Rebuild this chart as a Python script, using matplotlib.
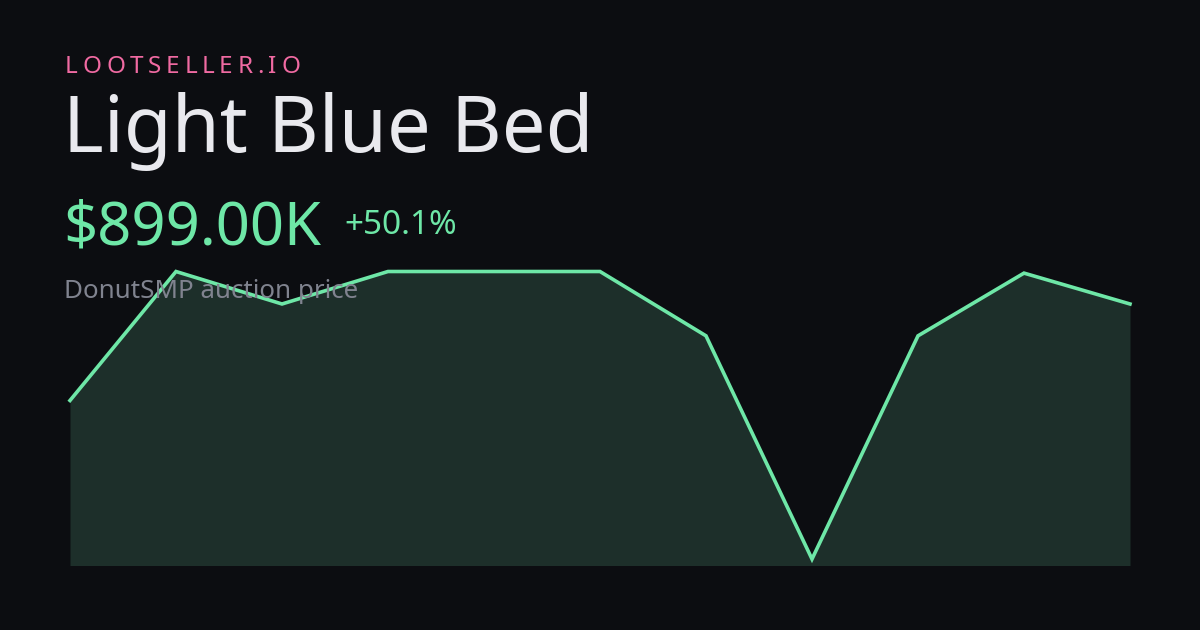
import matplotlib
matplotlib.use("Agg")
import matplotlib.pyplot as plt

# price history (K)
prices = [599, 1000, 899, 1000, 1000, 1000, 800, 106, 800, 995, 899]
brand = "LOOTSELLER.IO"
item_name = "Light Blue Bed"
price_label = "$899.00K"
change_label = "+50.1%"
subtitle = "DonutSMP auction price"

W, H = 1200, 630
BG = "#0c0d11"
GREEN = "#6ee7a7"
FILL = "#1d2f2a"

plt.rcParams["font.family"] = ["Noto Sans", "DejaVu Sans"]

fig = plt.figure(figsize=(W / 100, H / 100), dpi=100, facecolor=BG)


def fy(px):
    return 1 - px / H


# chart area
ax = fig.add_axes([70 / W, fy(565.5), 1060 / W, 294 / H])
ax.set_facecolor("none")
x = list(range(len(prices)))
ax.fill_between(x, prices, 86, color=FILL, lw=0, zorder=1)
ax.plot(x, prices, color=GREEN, lw=2.6, solid_joinstyle="miter", clip_on=False, zorder=3)
ax.set_xlim(0, len(prices) - 1)
ax.set_ylim(86, 1000)
ax.axis("off")

# spaced brand label
renderer = fig.canvas.get_renderer()
cx = 65
for ch in brand:
    t = fig.text(cx / W, fy(73), ch, color="#f06aa2", fontsize=17.5, va="baseline", ha="left")
    w = t.get_window_extent(renderer).width
    cx += w + 4.7

fig.text(63 / W, fy(152), item_name, color="#e9e9ee", fontsize=56, va="baseline", ha="left")
fig.text(63 / W, fy(244), price_label, color=GREEN, fontsize=43, va="baseline", ha="left")
fig.text(344 / W, fy(234), change_label, color=GREEN, fontsize=24, va="baseline", ha="left")
t_sub = fig.text(64 / W, fy(298), subtitle, color="#80838f", fontsize=18.7, va="baseline", ha="left")
t_sub.set_zorder(0)

fig.savefig("out.png", dpi=100, facecolor=BG)
